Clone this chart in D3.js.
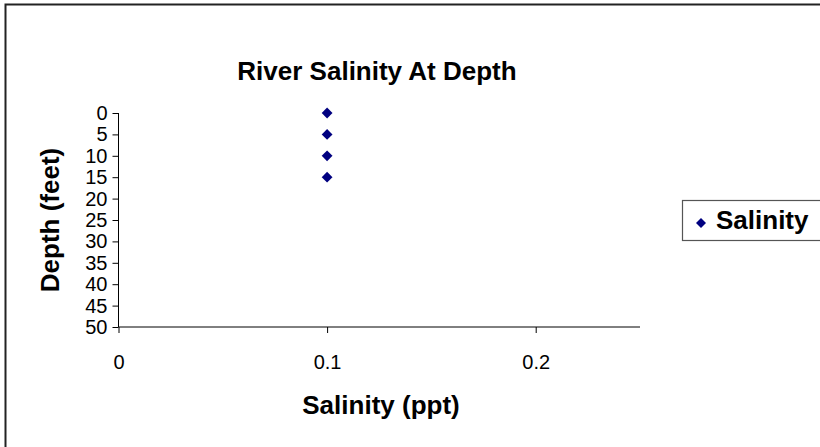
<!DOCTYPE html>
<html>
<head>
<meta charset="utf-8">
<script src="https://cdn.jsdelivr.net/npm/d3@7"></script>
<style>
  html, body { margin: 0; padding: 0; background: #fff; }
  svg { display: block; font-family: Arial, "Liberation Sans", sans-serif; }
</style>
</head>
<body>
<svg id="chart" width="820" height="447"></svg>
<script>
const title = "River Salinity At Depth";
const xTitle = "Salinity (ppt)";
const yTitle = "Depth (feet)";
const seriesName = "Salinity";
const salinity = [0.1, 0.1, 0.1, 0.1];
const depth = [0, 5, 10, 15];
const xTicks = [0, 0.1, 0.2];
const yTicks = [0, 5, 10, 15, 20, 25, 30, 35, 40, 45, 50];

const svg = d3.select("#chart");
const W = 820, H = 447;
const FONT = "Arial, 'Liberation Sans', sans-serif";

// outer chart border
svg.append("rect").attr("x", 5.5).attr("y", 4.5).attr("width", W + 10).attr("height", H + 10)
  .attr("fill", "#fff").attr("stroke", "#222").attr("stroke-width", 2);

const plot = { left: 118.5, right: 640, top: 113, bottom: 327 };

const x = d3.scaleLinear().domain([0, 0.25]).range([plot.left, plot.right]);
const y = d3.scaleLinear().domain([0, 50]).range([plot.top, plot.bottom]);

// Title
svg.append("text").attr("x", 377).attr("y", 80).attr("text-anchor", "middle")
  .attr("font-size", 26).attr("font-weight", "bold").attr("fill", "#000").text(title);

// X axis
const xAxis = d3.axisBottom(x).tickValues(xTicks).tickSize(6).tickPadding(22)
  .tickFormat(d => d === 0 ? "0" : d3.format(".1f")(d));
const gx = svg.append("g").attr("transform", `translate(0,${plot.bottom})`).call(xAxis);
gx.select(".domain").attr("d", `M${plot.left},0H${plot.right}`).attr("stroke", "#000");
gx.selectAll(".tick line").attr("stroke", "#000");
gx.selectAll(".tick text").attr("font-size", 20).attr("fill", "#000").attr("font-family", FONT);

// Y axis
const yAxis = d3.axisLeft(y).tickValues(yTicks).tickSize(6).tickPadding(5).tickFormat(d3.format("d"));
const gy = svg.append("g").attr("transform", `translate(${plot.left},0)`).call(yAxis);
gy.select(".domain").attr("d", `M0,${plot.top}V${plot.bottom}`).attr("stroke", "#000");
gy.selectAll(".tick line").attr("stroke", "#000");
gy.selectAll(".tick text").attr("font-size", 20).attr("fill", "#000").attr("font-family", FONT);

// Axis titles
svg.append("text").attr("x", 381).attr("y", 414).attr("text-anchor", "middle")
  .attr("font-size", 26).attr("font-weight", "bold").attr("fill", "#000").text(xTitle);
svg.append("text").attr("transform", `translate(59,220) rotate(-90)`).attr("text-anchor", "middle")
  .attr("font-size", 26).attr("font-weight", "bold").attr("fill", "#000").text(yTitle);

// Points
const diamond = d3.symbol().type(d3.symbolSquare).size(58);
svg.append("g").selectAll("path").data(depth.map((d, i) => ({ x: salinity[i], y: d })))
  .join("path")
  .attr("d", diamond)
  .attr("transform", d => `translate(${x(d.x)},${y(d.y)}) rotate(45)`)
  .attr("fill", "#000080");

// Legend
const lg = svg.append("g");
lg.append("rect").attr("x", 682.5).attr("y", 200.5).attr("width", 150).attr("height", 40)
  .attr("fill", "#fff").attr("stroke", "#555").attr("stroke-width", 1.2);
lg.append("path").attr("d", d3.symbol().type(d3.symbolSquare).size(50))
  .attr("transform", `translate(701,223) rotate(45)`).attr("fill", "#000080");
lg.append("text").attr("x", 716).attr("y", 229).attr("font-size", 26).attr("font-weight", "bold")
  .attr("fill", "#000").text(seriesName);
</script>
</body>
</html>
